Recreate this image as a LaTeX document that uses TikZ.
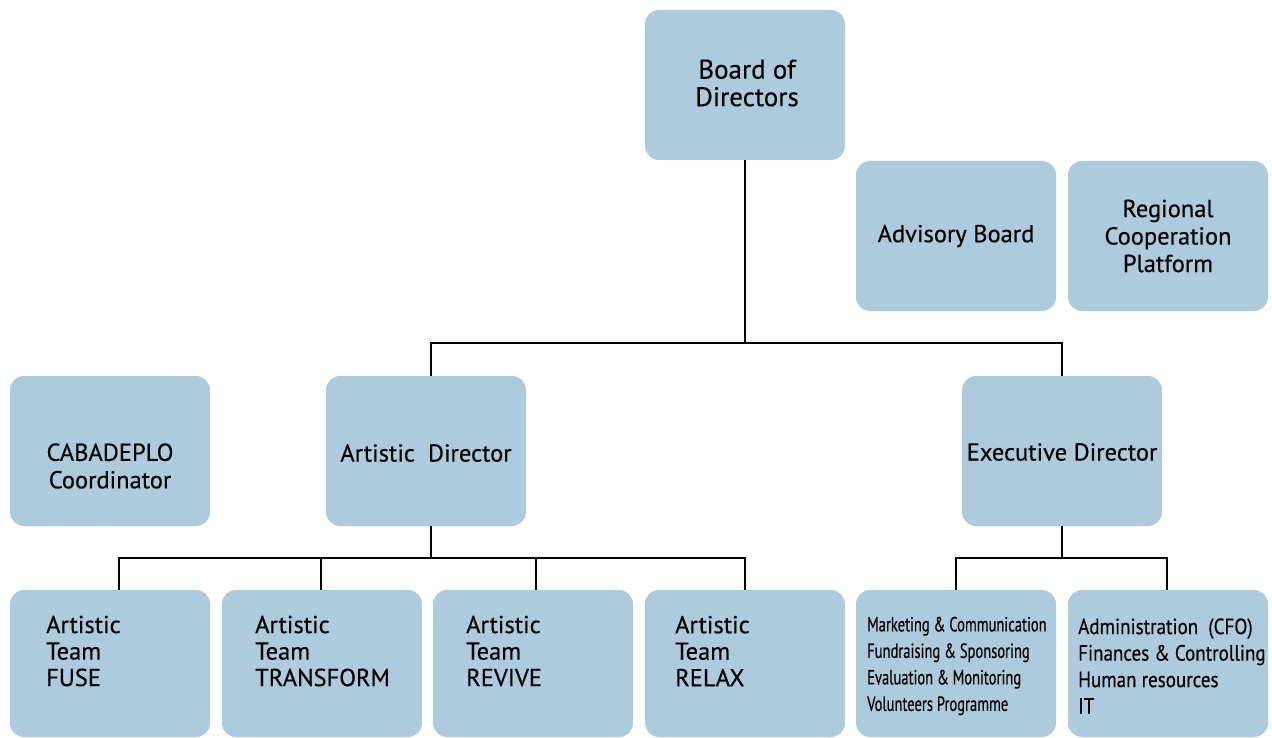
\documentclass[tikz,border=0pt]{standalone}
\usepackage{fontspec}
\setmainfont{PT Sans}[FakeBold=0.35]
\newfontfamily\narrowfont{PT Sans}[FakeStretch=0.71, FakeBold=0.35]
\newfontfamily\semifont{PT Sans}[FakeStretch=0.865, FakeBold=0.35]
\definecolor{boxblue}{HTML}{ADCBDD}
\begin{document}
\begin{tikzpicture}[x=1pt,y=-1pt,
  box/.style={fill=boxblue, rounded corners=14pt, minimum width=200pt, minimum height=150pt, inner sep=0pt},
  lowbox/.style={box, minimum height=147pt},
  lbl/.style={font=\fontsize{24.5}{27.5}\selectfont, inner sep=0pt, align=center},
  biglbl/.style={lbl, font=\fontsize{27}{27.5}\selectfont},
  lbll/.style={font=\fontsize{24.5}{26.5}\selectfont, inner sep=0pt, align=left, anchor=west},
  nlbl/.style={font=\narrowfont\fontsize{20.5}{26.5}\selectfont, inner sep=0pt, align=left, anchor=west},
  slbl/.style={font=\semifont\fontsize{22}{26.5}\selectfont, inner sep=0pt, align=left, anchor=west},
  conn/.style={line width=1.5pt, draw=black}]
\useasboundingbox (0,0) rectangle (1272,738);
% boxes
\node[box] (board) at (745,85) {};
\node[box] (adv) at (956,236) {};
\node[box] (reg) at (1168,236) {};
\node[box] (caba) at (110,451) {};
\node[box] (ad) at (426,451) {};
\node[box] (ed) at (1062,451) {};
\node[lowbox] (fuse) at (110,663.5) {};
\node[lowbox] (transform) at (322,663.5) {};
\node[lowbox] (revive) at (533,663.5) {};
\node[lowbox] (relax) at (745,663.5) {};
\node[lowbox] (mc) at (956,663.5) {};
\node[lowbox] (admin) at (1168,663.5) {};
% texts
\node[biglbl] (boardt) at (747,83) {Board of\\Directors};
\node[lbl] (advt) at (956,236) {Advisory Board};
\node[lbl] (regt) at (1168,236) {Regional\\Cooperation\\Platform};
\node[lbl] (cabat) at (110,466) {CABADEPLO\\Coordinator};
\node[lbl] (adt) at (426,453) {Artistic\ \ Director};
\node[lbl] (edt) at (1062,452) {Executive Director};
\node[lbll] (fuset) at (46,651) {Artistic\\Team\\FUSE};
\node[lbll] (transformt) at (255,651) {Artistic\\Team\\TRANSFORM};
\node[lbll] (revivet) at (466,651) {Artistic\\Team\\REVIVE};
\node[lbll] (relaxt) at (675,651) {Artistic\\Team\\RELAX};
\node[nlbl] (mct) at (867,666) {Marketing \& Communication\\Fundraising \& Sponsoring\\Evaluation \& Monitoring\\Volunteers Programme};
\node[slbl] (admint) at (1078,666) {Administration\ \ (CFO)\\Finances \& Controlling\\Human resources\\IT};
% connectors
\draw[conn] (board.south) -- (745,343) coordinate (bj);
\draw[conn] ([xshift=5pt]ad.north) |- (bj) -| (ed.north);
\draw[conn] ([xshift=5pt]ad.south) -- ++(0,32) coordinate (aj);
\draw[conn] ([xshift=9pt]fuse.north) |- (aj) -| (relax.north);
\draw[conn] ([xshift=-1pt]transform.north) -- ([xshift=-1pt]transform.north |- aj);
\draw[conn] ([xshift=3pt]revive.north) -- ([xshift=3pt]revive.north |- aj);
\draw[conn] (ed.south) -- ++(0,32) coordinate (ej);
\draw[conn] (mc.north) |- (ej) -| ([xshift=-1pt]admin.north);
\end{tikzpicture}
\end{document}
